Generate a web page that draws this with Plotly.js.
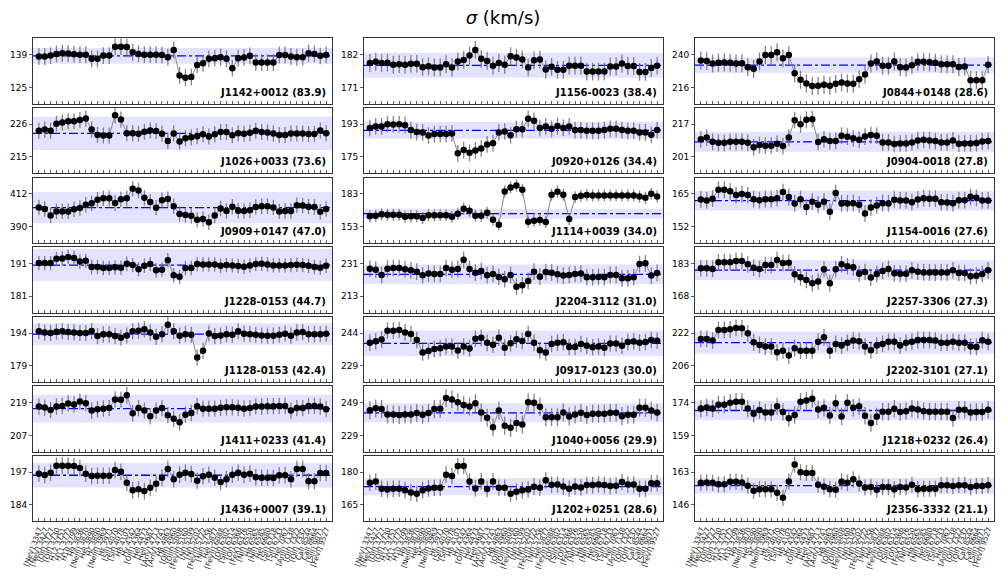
<!DOCTYPE html>
<html><head><meta charset="utf-8">
<script src="https://cdn.plot.ly/plotly-3.0.1.min.js"></script>
<style>html,body{margin:0;padding:0;background:#fff}#chart{width:1008px;height:578px}</style>
</head><body><div id="chart"></div>
<script>
// ---- DATA ----
const lineLabels = ["[NeV] 3347","[NeV] 3427","[OII] 3727","[OII] 3730","H12 3751","H11 3772","H10 3799","H9 3836","[NeIII] 3870","HeI 3890",
 "Hζ 3890","[NeIII] 3969","Hε 3971","[SII] 4070","[SII] 4078","Hδ 4103","Hγ 4342","[OIII] 4364","HeI 4473","HeII 4687",
 "[ArIV] 4713","[ArIV] 4741","Hβ 4863","[OIII] 4960","[OIII] 5008","[FeVII] 5160","[NI] 5199","[NI] 5202","[FeVII] 5722","[NII] 5756",
 "HeI 5877","[FeVII] 6088","[OI] 6302","[SIII] 6314","[OI] 6366","[FeX] 6376","[NII] 6550","Hα 6565","[NII] 6585","HeI 6680",
 "[SII] 6718","[SII] 6733","HeI 7067","[ArIII] 7138","[OII] 7322","[OII] 7332","CaII 8544","CaII 8664","[SIII] 9071","[FeVI] 9527"];

const panelNames = ["J1142+0012 (83.9)","J1026+0033 (73.6)","J0909+0147 (47.0)","J1228-0153 (44.7)","J1128-0153 (42.4)","J1411+0233 (41.4)","J1436+0007 (39.1)",
 "J1156-0023 (38.4)","J0920+0126 (34.4)","J1114+0039 (34.0)","J2204-3112 (31.0)","J0917-0123 (30.0)","J1040+0056 (29.9)","J1202+0251 (28.6)",
 "J0844+0148 (28.6)","J0904-0018 (27.8)","J1154-0016 (27.6)","J2257-3306 (27.3)","J2202-3101 (27.1)","J1218+0232 (26.4)","J2356-3332 (21.1)"];

const tickHi = [139,226,412,191,194,219,197, 182,193,183,231,244,249,180, 240,217,165,183,222,174,163];
const tickLo = [125,215,390,181,179,207,184, 171,175,153,213,229,229,165, 216,201,152,168,206,159,146];

const medians  = [138.5,222.9,402.7,190.5,193.5,216.8,195.8, 178.4,189.6,164.8,225.0,239.3,242.8,173.4, 232.3,208.4,162.3,179.9,217.3,170.4,156.0];
const bandHalf = [3.4,5.6,10.5,4.9,5.0,5.1,4.9, 4.2,4.6,4.6,5.4,5.9,5.8,4.0, 5.7,4.9,3.9,4.6,5.4,4.5,4.0];
const errSize  = [3.6,2.7,5.2,2.2,3.7,3.0,3.3, 3.0,4.6,5.5,4.6,3.8,5.5,3.8, 6.6,4.1,3.3,3.8,4.1,4.0,4.2];

const sig_J1142p0012 = [138.2,138.2,138.6,139.3,139.6,139.5,139.2,139.0,139.0,137.2,137.2,138.6,138.6,142.4,142.4,142.3,140.0,139.3,139.0,139.0,139.0,138.8,137.9,141.0,130.1,129.1,129.4,134.6,135.3,137.2,137.5,137.9,137.2,133.2,137.5,137.8,138.5,135.6,135.6,135.6,135.6,138.9,138.9,138.2,137.9,137.9,139.6,139.3,138.5,138.9];
const sig_J1026p0033 = [223.8,224.2,223.8,226.2,226.6,227.0,227.0,227.4,227.9,224.2,222.4,222.2,222.2,229.0,227.6,223.0,223.0,222.8,223.5,223.9,223.7,222.8,220.4,222.9,220.2,221.3,221.6,222.0,222.6,221.9,222.6,223.4,223.4,222.3,223.0,222.8,223.1,223.8,223.4,223.2,222.9,222.4,222.4,222.9,222.9,222.9,222.7,222.7,223.9,223.0];
const sig_J0909p0147 = [402.9,401.8,397.5,400.2,400.2,400.2,401.6,402.5,404.7,405.6,408.1,409.1,409.1,405.9,408.4,409.1,415.4,414.3,409.3,406.6,402.7,407.7,408.6,403.6,398.4,397.7,397.3,394.5,395.0,392.9,397.5,402.2,400.4,403.4,400.7,400.4,400.9,403.2,403.6,403.6,402.9,400.2,400.4,400.4,404.3,404.1,403.4,403.2,400.0,401.8];
const sig_J1228m0153 = [191.1,191.1,191.1,192.4,192.5,193.0,192.7,191.6,191.8,189.9,189.9,189.6,189.6,189.8,189.7,190.9,190.5,189.2,190.3,190.8,188.9,189.1,192.0,187.4,186.9,189.6,189.6,190.8,190.7,190.7,190.7,190.3,190.5,190.4,190.2,190.0,190.4,190.8,190.9,190.7,190.4,190.4,190.4,190.5,190.6,190.5,190.3,189.9,189.7,190.3];
const sig_J1128m0153 = [194.8,194.2,194.0,194.6,194.8,194.5,194.3,194.0,194.0,194.9,192.6,193.4,193.4,192.6,191.9,192.9,194.8,195.1,195.7,194.2,192.3,193.5,197.8,194.8,192.8,193.5,193.2,182.8,185.9,193.8,192.6,192.9,193.5,193.2,194.8,193.7,193.5,193.2,192.9,192.8,192.8,193.2,193.7,192.8,194.3,194.5,193.5,193.5,193.5,193.7];
const sig_J1411p0233 = [217.6,217.2,216.3,217.6,217.8,218.7,218.3,219.4,218.8,216.1,216.6,216.8,217.0,220.2,220.1,221.7,215.1,217.0,216.1,214.0,216.1,217.0,214.4,213.1,211.8,214.6,215.2,217.7,216.8,216.8,216.8,217.1,217.3,217.3,217.1,216.8,217.0,217.6,217.6,217.7,217.7,217.8,217.8,216.1,217.0,217.0,217.8,217.8,217.6,216.6];
const sig_J1436p0007 = [196.4,195.9,196.8,199.6,199.6,199.6,199.5,198.7,196.4,195.5,195.6,195.6,195.6,197.9,197.2,192.8,189.8,190.2,189.5,190.8,192.4,194.8,198.3,194.2,196.0,196.8,196.3,193.6,195.4,196.0,194.8,193.1,194.2,196.0,196.8,196.0,196.4,195.0,194.8,194.8,194.7,195.8,195.8,194.2,198.3,198.3,193.4,193.4,196.7,196.7];
const sig_J1156m0023 = [179.2,179.6,179.2,179.3,178.6,178.8,178.6,178.9,178.9,177.8,178.1,177.7,177.7,178.8,177.7,179.7,180.2,181.7,183.6,180.6,179.9,178.3,179.2,178.6,181.5,181.0,180.4,177.7,180.1,180.4,177.0,177.9,176.9,176.9,178.3,178.3,178.3,176.3,176.3,176.3,176.3,178.0,178.0,179.0,178.2,178.2,176.2,176.2,177.5,178.3];
const sig_J0920p0126 = [190.9,191.8,191.8,193.0,192.9,193.0,192.5,189.8,188.7,188.5,186.8,187.6,187.6,187.6,187.9,177.0,178.8,177.3,178.6,179.7,181.9,182.6,188.5,189.0,187.0,190.3,190.3,196.0,194.9,190.9,191.8,190.5,192.0,191.0,191.8,189.8,189.8,189.4,189.4,189.4,189.8,190.5,190.5,189.8,189.4,189.4,188.5,188.5,187.2,189.9];
const sig_J1114p0039 = [162.4,163.0,164.2,163.9,163.9,163.9,162.1,162.4,162.4,160.8,163.3,163.3,163.3,163.3,162.1,164.8,169.4,167.5,163.0,163.0,165.7,159.3,154.7,185.2,188.9,190.7,186.7,157.5,158.4,159.0,157.2,182.2,184.9,182.2,159.9,180.0,181.2,181.9,181.6,181.6,181.6,181.6,181.6,181.6,181.6,181.6,180.6,179.4,183.1,180.6];
const sig_J2204m3112 = [228.1,227.6,224.7,228.1,228.5,228.5,227.8,227.2,226.5,224.5,225.4,225.2,225.2,228.5,227.6,227.9,233.0,227.9,225.9,226.8,224.5,225.2,223.6,222.3,224.7,218.2,219.0,221.4,226.5,223.7,226.3,225.9,225.0,224.3,224.7,225.2,225.4,223.4,223.4,223.6,223.4,224.7,224.7,222.8,222.8,223.4,230.7,231.1,224.3,225.8];
const sig_J0917m0123 = [239.6,240.2,241.0,245.1,245.1,245.4,244.3,243.6,240.8,235.1,235.8,236.7,237.0,237.8,237.8,236.0,237.8,236.9,241.4,241.8,239.5,238.6,241.9,237.3,239.3,241.1,240.4,243.6,239.6,236.1,235.1,239.0,239.6,239.8,237.6,237.6,239.0,238.2,237.5,237.8,237.3,239.2,239.2,238.2,239.9,240.1,239.6,239.9,240.8,240.5];
const sig_J1040p0056 = [244.4,245.5,245.1,241.8,241.8,241.4,241.8,241.8,242.6,241.6,242.6,245.1,245.3,251.8,251.0,249.2,247.5,246.7,248.7,243.0,239.7,234.0,244.2,234.8,233.6,236.6,235.6,249.2,249.0,246.5,240.1,240.1,240.1,243.0,240.5,241.8,242.8,241.4,242.2,242.2,242.2,242.8,242.8,240.7,241.6,241.6,245.9,245.9,244.2,243.0];
const sig_J1202p0251 = [175.2,175.7,172.4,172.1,172.4,172.4,171.8,170.7,170.1,171.8,172.6,172.9,172.9,178.9,178.3,182.9,182.9,175.7,172.6,175.8,172.3,175.8,172.9,172.9,170.1,171.0,171.7,172.1,173.4,172.9,176.3,174.3,174.4,173.5,172.4,173.5,173.0,174.1,174.1,174.4,174.1,173.7,173.8,175.5,174.4,174.4,172.4,172.4,174.9,174.9];
const sig_J0844p0148 = [235.7,235.4,233.5,234.0,234.2,234.0,233.5,233.7,230.8,229.6,234.9,239.8,239.8,241.8,237.4,239.8,226.4,221.5,218.9,216.9,217.2,217.9,217.2,218.6,219.6,218.9,218.6,222.0,225.4,233.5,234.9,231.8,231.8,234.9,230.8,230.6,232.3,234.7,234.7,234.5,234.0,233.0,233.0,233.0,231.0,231.3,221.3,221.3,221.3,232.5];
const sig_J0904m0018 = [209.6,210.5,208.4,207.9,207.9,208.4,208.4,208.4,207.9,205.7,206.8,206.5,206.5,207.5,206.3,210.5,219.0,217.0,219.2,219.5,208.3,209.7,208.8,208.8,211.4,210.9,210.1,209.4,211.0,211.7,211.4,208.1,208.1,207.3,207.6,207.6,208.1,209.1,209.4,209.1,208.8,208.1,208.1,209.1,207.5,207.6,207.6,207.8,208.6,208.8];
const sig_J1154m0016 = [162.8,162.4,163.1,166.6,166.6,166.0,164.5,164.9,164.5,162.9,162.5,162.9,162.9,163.3,165.7,163.7,161.2,162.9,159.8,161.9,160.7,161.9,157.9,165.3,161.2,161.2,161.3,160.7,157.2,159.6,160.4,161.3,161.2,162.7,162.4,162.4,161.7,162.8,163.3,163.1,163.1,161.7,161.6,161.3,162.5,162.5,163.8,163.4,162.4,162.4];
const sig_J2257m3306 = [180.8,180.8,180.5,183.5,183.5,183.5,184.1,184.1,182.6,181.0,180.5,182.3,182.3,184.6,183.2,183.3,178.0,176.7,175.4,173.9,174.7,180.3,173.9,180.3,182.6,181.7,181.2,178.3,179.1,176.5,178.2,179.5,180.5,178.5,178.3,178.3,179.9,179.2,178.9,178.9,178.8,178.9,178.9,179.9,178.6,178.6,177.1,177.4,178.2,179.9];
const sig_J2202m3101 = [219.1,219.1,218.3,223.5,223.5,223.8,224.5,224.3,221.9,217.5,216.2,215.4,215.4,212.6,213.4,211.0,214.6,213.4,213.4,213.4,217.8,219.9,213.4,216.7,215.9,217.2,218.3,218.0,215.4,213.6,215.9,216.7,217.7,217.7,215.9,217.3,217.8,218.6,218.6,218.6,218.3,217.3,217.3,217.7,217.3,217.3,215.4,215.2,218.5,217.7];
const sig_J1218p0232 = [171.3,171.8,171.3,173.0,173.0,174.0,174.4,174.4,171.3,168.9,170.6,169.5,169.5,172.3,169.7,166.9,168.3,174.4,175.0,175.8,170.9,171.7,168.1,173.7,167.7,174.0,171.7,172.3,168.0,164.7,167.7,169.8,169.8,171.2,169.7,170.1,171.3,170.9,170.1,169.8,169.8,169.8,169.8,167.0,170.7,170.7,169.5,169.7,169.7,170.7];
const sig_J2356m3332 = [157.5,157.7,157.5,156.7,156.7,158.1,158.1,157.7,156.0,153.4,154.2,154.1,154.1,152.3,149.7,158.2,167.0,163.0,162.6,162.6,156.5,155.5,154.1,153.9,158.1,157.5,159.3,157.2,155.1,155.3,153.9,155.3,155.3,154.1,155.3,155.1,156.5,154.2,154.4,154.4,154.4,156.3,156.3,155.8,156.3,156.3,155.3,155.8,155.8,156.3];

const panelValues = [sig_J1142p0012,sig_J1026p0033,sig_J0909p0147,sig_J1228m0153,sig_J1128m0153,sig_J1411p0233,sig_J1436p0007,
 sig_J1156m0023,sig_J0920p0126,sig_J1114p0039,sig_J2204m3112,sig_J0917m0123,sig_J1040p0056,sig_J1202p0251,
 sig_J0844p0148,sig_J0904m0018,sig_J1154m0016,sig_J2257m3306,sig_J2202m3101,sig_J1218p0232,sig_J2356m3332];

// ---- LAYOUT ----
const W = 1008, H = 578;
const colLeft = [33, 364, 695], colW = 299;
const rowTop0 = 38.3, rowPitch = 69.6, rowH = 65.4;
const nRows = 7;
const idx = lineLabels.map((_, i) => i);

const traces = [];
const layout = {
  width: W, height: H, autosize: false,
  margin: {l: 0, r: 0, t: 0, b: 0},
  paper_bgcolor: '#fff', plot_bgcolor: '#fff',
  font: {family: 'DejaVu Sans, sans-serif', color: '#000'},
  showlegend: false,
  title: {text: '<i>σ</i> (km/s)', x: 0.499, xanchor: 'center', y: 1 - 18 / H, yanchor: 'middle',
          font: {size: 18, family: 'DejaVu Sans, sans-serif', color: '#000'}},
  shapes: [], annotations: []
};

panelValues.forEach((vals, i) => {
  const c = Math.floor(i / nRows), r = i % nRows;
  const k = i + 1;
  const xa = 'x' + (k === 1 ? '' : k), ya = 'y' + (k === 1 ? '' : k);
  const xk = 'xaxis' + (k === 1 ? '' : k), yk = 'yaxis' + (k === 1 ? '' : k);
  const top = rowTop0 + r * rowPitch, bot = top + rowH;
  const d = tickHi[i] - tickLo[i];
  layout[xk] = {
    domain: [colLeft[c] / W, (colLeft[c] + colW) / W],
    anchor: ya, range: [-1, 50],
    tickmode: 'array', tickvals: idx, ticktext: lineLabels,
    showticklabels: r === nRows - 1, tickangle: -70,
    tickfont: {size: 7.2, family: 'DejaVu Sans, sans-serif', color: '#222'},
    ticks: 'inside', ticklen: 3, tickwidth: 0.8, tickcolor: '#333',
    showgrid: false, zeroline: false,
    showline: true, mirror: true, linecolor: '#333', linewidth: 1
  };
  layout[yk] = {
    domain: [1 - bot / H, 1 - top / H],
    anchor: xa, range: [tickLo[i] - 0.5 * d, tickHi[i] + 0.5 * d],
    tickmode: 'array', tickvals: [tickLo[i], tickHi[i]], ticktext: [String(tickLo[i]), String(tickHi[i])],
    tickfont: {size: 9, family: 'DejaVu Sans, sans-serif', color: '#000'},
    ticks: 'outside', ticklen: 3, tickwidth: 0.8, tickcolor: '#333',
    showgrid: false, zeroline: false,
    showline: true, mirror: true, linecolor: '#333', linewidth: 1
  };
  layout.shapes.push({
    type: 'rect', xref: xa + ' domain', yref: ya, x0: 0, x1: 1,
    y0: medians[i] - bandHalf[i], y1: medians[i] + bandHalf[i],
    fillcolor: 'rgba(0,0,255,0.11)', line: {width: 0}, layer: 'below'
  });
  layout.shapes.push({
    type: 'line', xref: xa + ' domain', yref: ya, x0: 0, x1: 1,
    y0: medians[i], y1: medians[i],
    line: {color: '#0000ff', width: 1.3, dash: 'dashdot'}, layer: 'below'
  });
  layout.annotations.push({
    xref: xa + ' domain', yref: ya + ' domain', x: 0.985, y: 0.06,
    xanchor: 'right', yanchor: 'bottom', showarrow: false,
    text: '<b>' + panelNames[i] + '</b>',
    font: {size: 10, family: 'DejaVu Sans, sans-serif', color: '#000'}
  });
  traces.push({
    type: 'scatter', mode: 'lines+markers', xaxis: xa, yaxis: ya,
    x: idx, y: vals,
    line: {color: '#888888', width: 1},
    marker: {color: '#000', size: 6.5},
    error_y: {type: 'constant', value: errSize[i], color: 'rgba(110,110,110,0.85)', thickness: 1.3, width: 0},
    hoverinfo: 'skip'
  });
});

Plotly.newPlot('chart', traces, layout, {staticPlot: true, displayModeBar: false});
</script>
</body></html>
